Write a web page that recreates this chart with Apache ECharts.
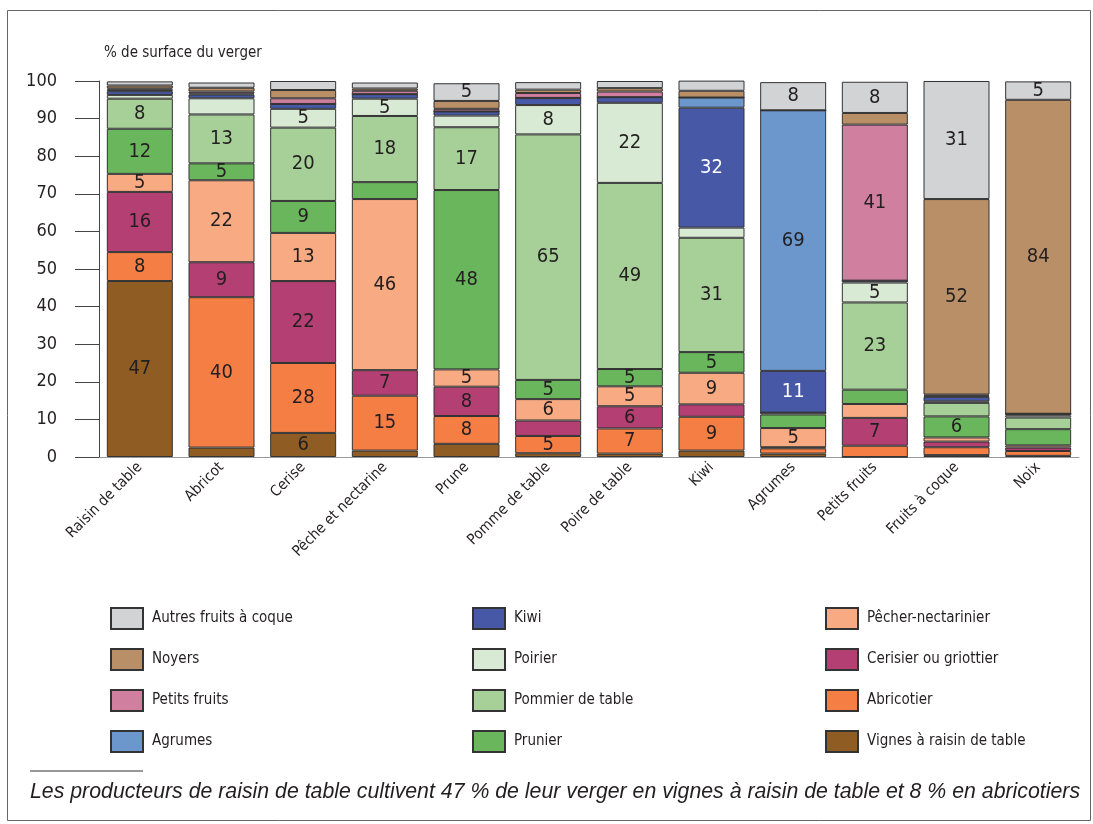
<!DOCTYPE html>
<html>
<head>
<meta charset="utf-8">
<script src="https://cdn.jsdelivr.net/npm/echarts@6/dist/echarts.min.js"></script>
<style>
  html, body { margin: 0; padding: 0; background: #fff; }
  #chart { width: 1093px; height: 824px; }
</style>
</head>
<body>
<div id="chart"></div>
<script>
const NARROW = "'Liberation Sans Narrow', 'DejaVu Sans Condensed', 'Roboto Condensed', sans-serif";

const categories = ['Raisin de table', 'Abricot', 'Cerise', 'Pêche et nectarine', 'Prune',
  'Pomme de table', 'Poire de table', 'Kiwi', 'Agrumes', 'Petits fruits', 'Fruits à coque', 'Noix'];

// segment heights as drawn (% of orchard area), bottom of stack first
const vignes    = [46.8, 2.5, 6.4, 1.7, 3.5, 1, 0.9, 1.7, 0.9, 0, 0.5, 0.3];
const abricotier = [7.7, 40, 18.6, 14.6, 7.4, 4.6, 6.7, 9, 1.4, 3, 2.1, 1.3];
const cerisier  = [16, 9.3, 21.8, 6.8, 7.8, 4.1, 5.9, 3.3, 0.3, 7.4, 1.5, 0.9];
const pecher    = [4.8, 21.8, 12.8, 45.5, 4.6, 5.7, 5.3, 8.4, 5.1, 3.7, 1.1, 0.6];
const prunier   = [12, 4.5, 8.5, 4.5, 47.7, 5.1, 4.6, 5.5, 3.6, 3.8, 5.6, 4.3];
const pommier   = [8, 13, 19.5, 17.6, 16.7, 65.3, 49.5, 30.4, 0.5, 23.2, 3.6, 3.1];
const poirier   = [1, 4.3, 5, 4.6, 3.1, 7.8, 21.3, 2.7, 0, 5.3, 0.4, 0.6];
const kiwi      = [1, 1, 1.3, 1.2, 1.1, 1.9, 1.5, 31.9, 11.1, 0.5, 1.2, 0.4];
const agrumes   = [0.4, 0.3, 0, 0, 0, 0, 0, 2.7, 69.3, 0, 0.3, 0];
const petits    = [0.3, 0.5, 1.5, 0.9, 0.7, 1.3, 1.5, 0, 0, 41.5, 0.3, 0];
const noyers    = [0.8, 1, 2.2, 0.6, 2.1, 0.9, 0.9, 1.8, 0, 3.1, 52, 83.5];
const autres    = [1.1, 1.4, 2.4, 1.6, 4.7, 2, 1.9, 2.7, 7.5, 8.3, 31.4, 4.9];

// numbers printed in the segments (null = no label)
const _ = null;
const labVignes  = [47, _, 6, _, _, _, _, _, _, _, _, _];
const labAbric   = [8, 40, 28, 15, 8, 5, 7, 9, _, _, _, _];
const labCeris   = [16, 9, 22, 7, 8, _, 6, _, _, 7, _, _];
const labPecher  = [5, 22, 13, 46, 5, 6, 5, 9, 5, _, _, _];
const labPrun    = [12, 5, 9, _, 48, 5, 5, 5, _, _, 6, _];
const labPomm    = [8, 13, 20, 18, 17, 65, 49, 31, _, 23, _, _];
const labPoir    = [_, _, 5, 5, _, 8, 22, _, _, 5, _, _];
const labKiwi    = [_, _, _, _, _, _, _, 32, 11, _, _, _];
const labAgr     = [_, _, _, _, _, _, _, _, 69, _, _, _];
const labPetits  = [_, _, _, _, _, _, _, _, _, 41, _, _];
const labNoy     = [_, _, _, _, _, _, _, _, _, _, 52, 84];
const labAutres  = [_, _, _, _, 5, _, _, _, 8, 8, 31, 5];

const yTicks = [0, 10, 20, 30, 40, 50, 60, 70, 80, 90, 100];

const stack = [
  { name: 'Vignes à raisin de table', values: vignes, labels: labVignes, color: '#8f5d24' },
  { name: 'Abricotier', values: abricotier, labels: labAbric, color: '#f47e44' },
  { name: 'Cerisier ou griottier', values: cerisier, labels: labCeris, color: '#b43f72' },
  { name: 'Pêcher-nectarinier', values: pecher, labels: labPecher, color: '#f8aa82' },
  { name: 'Prunier', values: prunier, labels: labPrun, color: '#6ab65d' },
  { name: 'Pommier de table', values: pommier, labels: labPomm, color: '#a6d098' },
  { name: 'Poirier', values: poirier, labels: labPoir, color: '#d8ead3' },
  { name: 'Kiwi', values: kiwi, labels: labKiwi, color: '#4759a6', text: '#ffffff' },
  { name: 'Agrumes', values: agrumes, labels: labAgr, color: '#6b97cd' },
  { name: 'Petits fruits', values: petits, labels: labPetits, color: '#d07f9e' },
  { name: 'Noyers', values: noyers, labels: labNoy, color: '#b98f67' },
  { name: 'Autres fruits à coque', values: autres, labels: labAutres, color: '#d2d3d5' },
];

const series = stack.map((s) => ({
  name: s.name,
  type: 'bar',
  stack: 'total',
  barWidth: 66,
  data: s.values,
  itemStyle: { color: s.color, borderColor: '#333', borderWidth: 1 },
  label: {
    show: true,
    position: 'inside',
    fontFamily: NARROW,
    fontSize: 20,
    color: s.text || '#231f20',
    formatter: (p) => (s.labels[p.dataIndex] == null ? '' : String(s.labels[p.dataIndex])),
  },
  emphasis: { disabled: true },
}));

const legendBase = {
  orient: 'vertical',
  top: 602,
  icon: 'rect',
  itemWidth: 32,
  itemHeight: 21,
  itemGap: 18,
  selectedMode: false,
  textStyle: { fontFamily: NARROW, fontSize: 15, color: '#231f20', padding: [0, 0, 0, 4] },
};

const chart = echarts.init(document.getElementById('chart'));
chart.setOption({
  animation: false,
  grid: { left: 99, right: 14, top: 81, bottom: 367 },
  legend: [
    Object.assign({}, legendBase, { left: 105, data: ['Autres fruits à coque', 'Noyers', 'Petits fruits', 'Agrumes'] }),
    Object.assign({}, legendBase, { left: 467, data: ['Kiwi', 'Poirier', 'Pommier de table', 'Prunier'] }),
    Object.assign({}, legendBase, { left: 820, data: ['Pêcher-nectarinier', 'Cerisier ou griottier', 'Abricotier', 'Vignes à raisin de table'] }),
  ],
  xAxis: {
    type: 'category',
    data: categories,
    axisLine: { lineStyle: { color: '#999', width: 1 } },
    axisTick: { inside: true, length: 10, lineStyle: { color: '#999' } },
    axisLabel: {
      rotate: 45,
      interval: 0,
      margin: 8,
      fontFamily: NARROW,
      fontSize: 15,
      color: '#231f20',
    },
  },
  yAxis: {
    type: 'value',
    min: 0,
    max: 100,
    interval: 10,
    name: '% de surface du verger',
    nameLocation: 'end',
    nameGap: 20,
    nameTextStyle: { fontFamily: NARROW, fontSize: 15, color: '#231f20', align: 'left', padding: [0, 0, 0, 5] },
    axisLine: { show: true, lineStyle: { color: '#444', width: 1 } },
    axisTick: { show: true, length: 24, lineStyle: { color: '#444' } },
    axisLabel: {
      margin: 42,
      fontFamily: NARROW,
      fontSize: 18,
      color: '#231f20',
      formatter: (v) => (yTicks.includes(v) ? String(v) : ''),
    },
    splitLine: { show: false },
  },
  graphic: [
    {
      type: 'rect',
      shape: { x: 7.5, y: 10.5, width: 1083, height: 810 },
      style: { fill: 'none', stroke: '#666', lineWidth: 1 },
      silent: true,
    },
    {
      type: 'line',
      shape: { x1: 30, y1: 771, x2: 143, y2: 771 },
      style: { stroke: '#333', lineWidth: 1 },
      silent: true,
    },
    {
      type: 'text',
      left: 30,
      top: 782,
      style: {
        text: 'Les producteurs de raisin de table cultivent 47 % de leur verger en vignes à raisin de table et 8 % en abricotiers',
        font: "italic 21.3px 'Liberation Sans', Arial, sans-serif",
        fill: '#231f20',
      },
      silent: true,
    },
  ],
  series: series,
});
</script>
</body>
</html>
